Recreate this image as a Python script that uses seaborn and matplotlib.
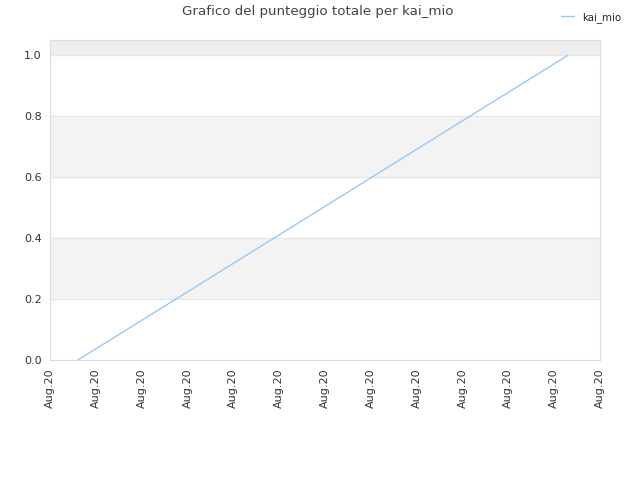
import numpy as np
import pandas as pd
import matplotlib
matplotlib.use('Agg')
import matplotlib.pyplot as plt
import seaborn as sns

# data
x_pos = [0.61, 11.3]
punteggio = [0.0, 1.0]
tick_pos = list(range(13))
tick_labels = ['Aug.20'] * 13
bands = [(0.2, 0.4), (0.6, 0.8)]

sns.set_style('white')
plt.rcParams['font.family'] = ['DejaVu Sans']

df = pd.DataFrame({'x': x_pos, 'punteggio': punteggio})

fig = plt.figure(figsize=(6.4, 4.8), dpi=100)
ax = fig.add_axes([50 / 640, 120 / 480, 550 / 640, 320 / 480])

for lo, hi in bands:
    ax.axhspan(lo, hi, color='#f3f3f3', zorder=0)
ax.axhspan(1.0, 1.05, color='#eeeeee', zorder=0)
for yv in [0.2, 0.4, 0.6, 0.8, 1.0]:
    ax.axhline(yv, color='#e6e6e6', lw=0.8, zorder=1)

sns.lineplot(data=df, x='x', y='punteggio', ax=ax, color='#99c9f5', lw=1, label='kai_mio', zorder=3)

ax.set_xlim(0, 12)
ax.set_ylim(0, 1.05)
ax.set_xticks(tick_pos)
ax.set_xticklabels(tick_labels, rotation=90, fontsize=8, color='#333333')
ax.set_yticks([0.0, 0.2, 0.4, 0.6, 0.8, 1.0])
ax.set_yticklabels(['0.0', '0.2', '0.4', '0.6', '0.8', '1.0'], fontsize=8, color='#333333')
ax.tick_params(length=0, pad=6)
ax.set_xlabel('')
ax.set_ylabel('')
for s in ax.spines.values():
    s.set_color('#dddddd')
    s.set_linewidth(0.8)

ax.get_legend().remove()
fig.legend(loc='upper right', bbox_to_anchor=(0.985, 0.995), frameon=False, fontsize=7.4,
           handlelength=1.2)
fig.suptitle('Grafico del punteggio totale per kai_mio', x=0.497, y=0.99, fontsize=9.6, color='#444444')

fig.savefig('out.png', dpi=100)
